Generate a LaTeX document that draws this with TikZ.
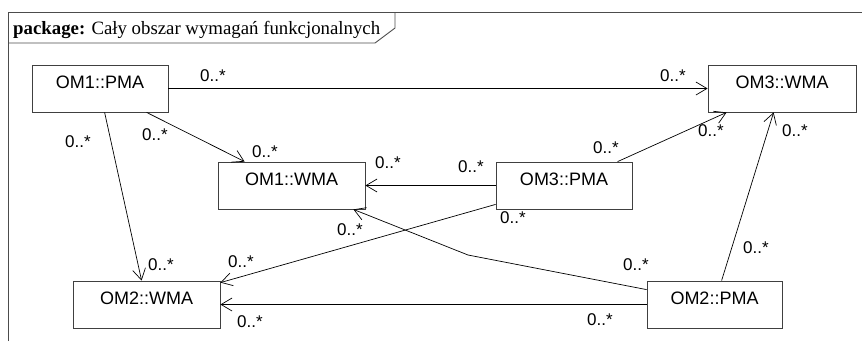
\documentclass[tikz,border=0pt]{standalone}
\usepackage{fontspec}
\setmainfont{Liberation Serif}
\setsansfont{Liberation Sans}
\usetikzlibrary{arrows.meta,calc}
\tikzset{
  umlbox/.style={draw=black!75, line width=0.8pt, rectangle, inner sep=0pt, minimum height=47pt},
  boxtext/.style={anchor=north, inner sep=0pt, yshift=-11pt, font=\sffamily\fontsize{18}{20}\selectfont, text height=13pt},
  assoc/.style={draw=black, line width=0.7pt, -{Straight Barb[length=11pt,width=13pt,line width=0.7pt]}},
  mult/.style={anchor=base west, inner sep=0pt, font=\sffamily\fontsize{17}{19}\selectfont},
  frameline/.style={draw=black!70, line width=0.9pt}
}
\begin{document}
\begin{tikzpicture}[x=1pt,y=-1pt]
\useasboundingbox (0,0) rectangle (862,341);
% package frame
\draw[frameline] (8,341) -- (8,12) -- (862,12);
\draw[frameline] (395,12) -- (395,28) -- (375,43) -- (8,43);
\node[anchor=base west, inner sep=0pt, font=\fontsize{18.8}{20}\selectfont] (pkg) at (13,34) {\textbf{package:} Cały obszar wymagań funkcjonalnych};
% boxes
\node[umlbox, minimum width=136pt, label={[boxtext, name=tpma1]north:OM1::PMA}] (pma1) at (100,88.5) {};
\node[umlbox, minimum width=148pt, label={[boxtext, name=twma3]north:OM3::WMA}] (wma3) at (782,88.5) {};
\node[umlbox, minimum width=147pt, label={[boxtext, name=twma1]north:OM1::WMA}] (wma1) at (291.5,185.5) {};
\node[umlbox, minimum width=136pt, label={[boxtext, name=tpma3]north:OM3::PMA}] (pma3) at (564,185.5) {};
\node[umlbox, minimum width=147pt, label={[boxtext, name=twma2]north:OM2::WMA}] (wma2) at (146.5,304.5) {};
\node[umlbox, minimum width=135pt, label={[boxtext, name=tpma2]north:OM2::PMA}] (pma2) at (714.5,304.5) {};
% connectors
\draw[assoc] (pma1.east) -- (pma1.east -| wma3.west);
\draw[assoc] ($(pma1.south west)+(115,0)$) -- ($(wma1.north west)+(27,0)$);
\draw[assoc] ($(pma1.south west)+(73,0)$) -- ($(wma2.north west)+(69,0)$);
\draw[assoc] (pma3.west) -- (pma3.west -| wma1.east);
\draw[assoc] ($(pma3.north west)+(122,0)$) -- ($(wma3.south west)+(19,0)$);
\draw[assoc] ($(pma3.south west)+(0,-5)$) -- ($(wma2.north east)+(0,2)$);
\coordinate (bend) at (468,255);
\draw[assoc] ($(pma2.north west)+(0,9)$) -- (bend) -- ($(wma1.south east)+(-12,0)$);
\draw[assoc] (pma2.west) -- (pma2.west -| wma2.east);
\draw[assoc] ($(pma2.north west)+(75,0)$) -- ($(wma3.south west)+(66,0)$);
% multiplicities
\node[mult] (m1a) at (200,81) {0..*};
\node[mult] (m1b) at (660,81) {0..*};
\node[mult] (m2a) at (142,140) {0..*};
\node[mult] (m2b) at (252,157) {0..*};
\node[mult] (m3a) at (65,147) {0..*};
\node[mult] (m3b) at (148,270) {0..*};
\node[mult] (m4a) at (375,168) {0..*};
\node[mult] (m4b) at (458,172) {0..*};
\node[mult] (m5a) at (593,153) {0..*};
\node[mult] (m5b) at (698,136) {0..*};
\node[mult] (m6a) at (500,223) {0..*};
\node[mult] (m6b) at (228,267) {0..*};
\node[mult] (m7a) at (623,270) {0..*};
\node[mult] (m7b) at (337,235) {0..*};
\node[mult] (m8a) at (587,325) {0..*};
\node[mult] (m8b) at (237,327) {0..*};
\node[mult] (m9a) at (743,253) {0..*};
\node[mult] (m9b) at (782,136) {0..*};
\end{tikzpicture}
\end{document}
